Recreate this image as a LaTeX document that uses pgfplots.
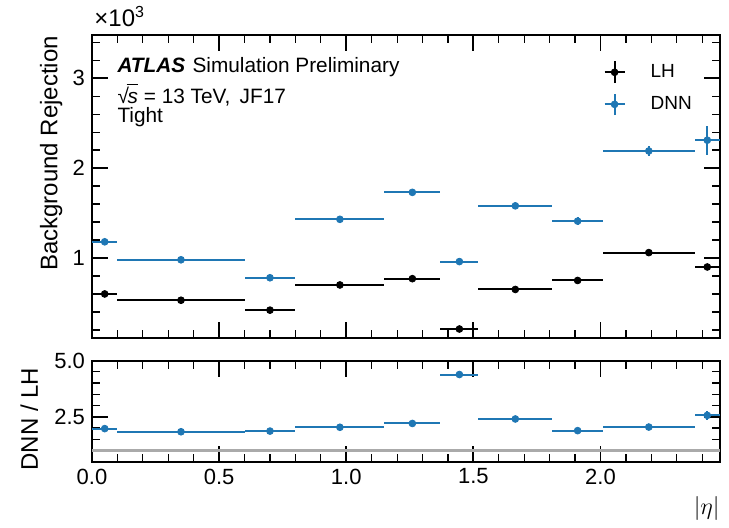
\documentclass[border=0pt]{standalone}
\usepackage{pgfplots}
\pgfplotsset{compat=1.18}
\usepackage{pgfplotstable}
\usepackage{fontspec}
\setmainfont{Liberation Sans}
\definecolor{dnnblue}{HTML}{1F77B4}
\definecolor{refgray}{HTML}{AAAAAA}

% |eta| bins: centre, half width, rejection (x1000) and errors
\pgfplotstableread{
x      ex     lh    elh    dnn   ednn
0.05   0.05   0.60  0.015  1.18  0.030
0.35   0.25   0.53  0.010  0.98  0.015
0.70   0.10   0.42  0.010  0.78  0.020
0.975  0.175  0.70  0.010  1.43  0.020
1.26   0.11   0.77  0.012  1.73  0.030
1.445  0.075  0.21  0.020  0.96  0.030
1.665  0.145  0.65  0.010  1.58  0.025
1.91   0.10   0.75  0.015  1.41  0.045
2.19   0.18   1.06  0.015  2.19  0.055
2.42   0.05   0.90  0.030  2.31  0.160
}\maintab

\pgfplotstableread{
x      ex     r     er
0.05   0.05   1.97  0.05
0.35   0.25   1.83  0.03
0.70   0.10   1.86  0.04
0.975  0.175  2.03  0.03
1.26   0.11   2.20  0.04
1.445  0.075  4.38  0.12
1.665  0.145  2.40  0.04
1.91   0.10   1.88  0.05
2.19   0.18   2.04  0.05
2.42   0.05   2.56  0.20
}\ratiotab

\pgfplotsset{
  atlas/.style={
    scale only axis, width=314pt,
    xmin=0, xmax=2.47,
    axis line style={line width=0.9pt},
    every tick/.style={black, line width=0.9pt},
    every minor tick/.style={black, line width=0.6pt},
    major tick length=8pt, minor tick length=4pt,
    tick align=inside, xtick pos=both, ytick pos=both,
    xtick={0,0.5,1,1.5,2},
    minor xtick={0.1,0.2,0.3,0.4,0.6,0.7,0.8,0.9,1.1,1.2,1.3,1.4,1.6,1.7,1.8,1.9,2.1,2.2,2.3,2.4},
    ticklabel style={font=\fontsize{11}{13}\selectfont},
    /pgf/number format/assume math mode=true,
    label style={font=\fontsize{12}{14}\selectfont},
  },
  bins/.style={only marks, mark=*, mark size=1.7pt, color=#1,
    error bars/.cd, x dir=both, x explicit, y dir=both, y explicit,
    error mark=none, error bar style={line width=1pt, #1}},
  ebleg/.style={legend image code/.code={
    \draw[#1, line width=1pt] (5pt,-5.4pt) -- (5pt,5.4pt);
    \draw[#1, line width=1pt] (0pt,0pt) -- (10.4pt,0pt);
    \fill[#1] (5pt,0pt) circle (1.7pt);
    \path[draw=none] (0pt,0pt) -- (21pt,0pt);}},
}
% square root of s in the text font
\newcommand{\sqrts}{√\kern-0.06em\textit{s}\llap{\rule[0.86em]{0.55em}{0.07em}}}

\begin{document}
\begin{tikzpicture}
\path[use as bounding box] (-46pt,17.5pt) rectangle (318.5pt,-246pt);

\begin{axis}[atlas, name=main, at={(0,0)}, anchor=north west,
    height=151.5pt, ymin=0.11, ymax=3.48,
    ytick={1,2,3},
    minor ytick={0.2,0.4,0.6,0.8,1.2,1.4,1.6,1.8,2.2,2.4,2.6,2.8,3.2,3.4},
    xticklabels={},
    ylabel={Background Rejection},
    ylabel style={at={(axis description cs:-0.065,1.02)}, anchor=east},
    legend style={at={(axis description cs:0.814,0.918)}, anchor=north west,
      draw=none, fill=none, inner sep=0pt, row sep=4pt,
      font=\fontsize{9.5}{11}\selectfont},
    legend cell align=left,
  ]
  \addplot[ebleg=black, bins=black] table[x=x, y=lh, x error=ex, y error=elh] {\maintab};
  \addplot[ebleg=dnnblue, bins=dnnblue] table[x=x, y=dnn, x error=ex, y error=ednn] {\maintab};
  \legend{LH, DNN}
  \node[anchor=base west, inner sep=0pt, font=\fontsize{10.4}{12}\selectfont]
    at (axis description cs:0.04,0.875) {\textbf{\textit{ATLAS}}\hspace{0.35em}Simulation Preliminary};
  \node[anchor=base west, inner sep=0pt, font=\fontsize{10.4}{12}\selectfont]
    at (axis description cs:0.04,0.775) {\sqrts{} = 13 TeV,\, JF17};
  \node[anchor=base west, inner sep=0pt, font=\fontsize{10.4}{12}\selectfont]
    at (axis description cs:0.04,0.712) {Tight};
\end{axis}
\node[anchor=base west, inner sep=0pt, font=\fontsize{12}{14}\selectfont]
  at ([xshift=1pt, yshift=4.3pt]main.north west) {×10\textsuperscript{3}};

\begin{axis}[atlas, at={(0,-162.8pt)}, anchor=north west,
    height=50.5pt, ymin=0.5, ymax=5,
    ytick={2.5,5},
    minor ytick={1,1.5,2,3,3.5,4,4.5},
    xticklabel style={/pgf/number format/.cd, fixed, fixed zerofill, precision=1},
    yticklabel style={/pgf/number format/.cd, fixed, fixed zerofill, precision=1},
    xlabel={$|\eta|$},
    xlabel style={at={(axis description cs:1,-0.34)}, anchor=north east,
      inner sep=0pt, font=\fontsize{12.5}{14}\selectfont},
    ylabel={DNN / LH},
    ylabel style={at={(axis description cs:-0.1,1)}, anchor=east},
  ]
  \addplot[refgray, line width=1.3pt, forget plot] coordinates {(0,1) (2.47,1)};
  \addplot[bins=dnnblue] table[x=x, y=r, x error=ex, y error=er] {\ratiotab};
\end{axis}
\end{tikzpicture}
\end{document}
